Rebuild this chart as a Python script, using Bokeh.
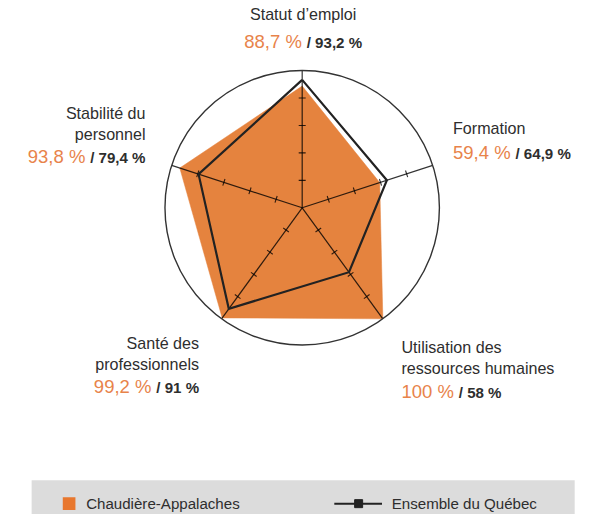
import numpy as np
from bokeh.plotting import figure
from bokeh.models import Range1d
from bokeh.core.properties import value
from bokeh.embed import file_html
from bokeh.resources import INLINE

# ---------------- data ----------------
categories = ["Statut d’emploi", "Formation", "Utilisation des ressources humaines",
              "Santé des professionnels", "Stabilité du personnel"]
category_lines = [["Statut d’emploi"], ["Formation"], ["Utilisation des", "ressources humaines"],
                  ["Santé des", "professionnels"], ["Stabilité du", "personnel"]]
region_values = [88.7, 59.4, 100.0, 99.2, 93.8]
quebec_values = [93.2, 64.9, 58.0, 91.0, 79.4]
region_labels = ["88,7 %", "59,4 %", "100 %", "99,2 %", "93,8 %"]
quebec_labels = ["/ 93,2 %", "/ 64,9 %", "/ 58 %", "/ 91 %", "/ 79,4 %"]
axis_ticks = [20, 40, 60, 80]
axis_max = 100
series_names = ["Chaudière-Appalaches", "Ensemble du Québec"]

# ---------------- style / layout ----------------
W, H = 581, 514
S = W / 597.0  # layout designed on a 597 x 530 canvas, scaled to fit


def sx(v):
    return v * S


CX, CY, R = sx(310), sx(213), sx(141)
FONT = value("Liberation Sans")
ORANGE_FILL = "#E5833E"
ORANGE_TEXT = "#E8834A"
DARK = "#2e2e2e"

p = figure(width=W, height=H, x_range=Range1d(0, W), y_range=Range1d(H, 0),
           output_backend="svg", toolbar_location=None, min_border=0,
           x_axis_location=None, y_axis_location=None)
p.grid.visible = False
p.outline_line_color = None
p.background_fill_color = "white"

n = len(categories)
angles = np.radians(90 - 72 * np.arange(n))


def polar(vals):
    v = np.asarray(vals, dtype=float) / axis_max * R
    return CX + v * np.cos(angles), CY - v * np.sin(angles)


# region polygon
rx, ry = polar(region_values)
p.patch(list(rx), list(ry), fill_color=ORANGE_FILL, line_color=ORANGE_FILL, line_width=0.5)

# axes with ticks
ex, ey = polar([axis_max] * n)
p.multi_line([[CX, x] for x in ex], [[CY, y] for y in ey], line_color="black", line_alpha=0.8, line_width=1.2)
tx, ty = [], []
half = 3.5
for i, a in enumerate(angles):
    nx, ny = -np.sin(a), -np.cos(a)
    for t in axis_ticks:
        px_ = CX + t / axis_max * R * np.cos(a)
        py_ = CY - t / axis_max * R * np.sin(a)
        tx.append([px_ - half * nx, px_ + half * nx])
        ty.append([py_ - half * ny, py_ + half * ny])
p.multi_line(tx, ty, line_color="black", line_alpha=0.8, line_width=1.1)

# Quebec line
qx, qy = polar(quebec_values)
p.line(list(qx) + [qx[0]], list(qy) + [qy[0]], line_color="#222222", line_width=2.2, line_join="miter")

# outer circle
p.circle(x=[CX], y=[CY], radius=R, fill_color=None, line_color="#333333", line_width=1.4)

# ---------------- labels ----------------
EM = {**{d: 0.556 for d in "0123456789"}, ",": 0.278, " ": 0.278, "%": 0.889, "/": 0.278}


def tw(s, size):
    return sum(EM.get(c, 0.556) for c in s) * size


OS, DS, LS = sx(19), sx(15.5), sx(16.5)
GAP = sx(5)
label_layout = [
    (311, "center", [14], 42),
    (465, "left", [131], 156),
    (412, "left", [356, 378], 402),
    (204, "right", [352, 373], 397),
    (149, "right", [116, 137], 160),
]
for i, (ax, align, ys, vy) in enumerate(label_layout):
    ax = sx(ax)
    ys = [sx(y) for y in ys]
    vy = sx(vy)
    p.text(x=[ax] * len(ys), y=ys, text=category_lines[i], text_font=FONT, text_font_size=f"{LS:.1f}px",
           text_color=DARK, text_align=align, text_baseline="middle")
    wo = tw(region_labels[i], OS)
    wd = tw(quebec_labels[i], DS)
    if align == "left":
        ox = ax
    elif align == "right":
        ox = ax - wd - GAP - wo
    else:
        ox = ax - (wo + GAP + wd) / 2
    dx = ox + wo + GAP
    p.text(x=[ox], y=[vy], text=[region_labels[i]], text_font=FONT, text_font_size=f"{OS:.1f}px",
           text_color=ORANGE_TEXT, text_align="left", text_baseline="middle")
    p.text(x=[dx], y=[vy + 1], text=[quebec_labels[i]], text_font=FONT, text_font_size=f"{DS:.1f}px",
           text_font_style="bold", text_color=DARK, text_align="left", text_baseline="middle")

# ---------------- legend ----------------
LY = sx(517)
LF = f"{sx(15.5):.1f}px"
p.quad(left=[sx(32)], right=[sx(590)], top=[sx(493)], bottom=[H], fill_color="#DCDCDC", line_color=None)
p.quad(left=[sx(64)], right=[sx(77)], top=[LY - sx(6.5)], bottom=[LY + sx(6.5)], fill_color="#E8772E", line_color=None)
p.text(x=[sx(88)], y=[LY], text=[series_names[0]], text_font=FONT, text_font_size=LF,
       text_color=DARK, text_align="left", text_baseline="middle")
p.line([sx(343), sx(392)], [LY, LY], line_color="#222222", line_width=2)
p.scatter([sx(368)], [LY], marker="square", size=8, fill_color="#222222", line_color="#222222")
p.text(x=[sx(402)], y=[LY], text=[series_names[1]], text_font=FONT, text_font_size=LF,
       text_color=DARK, text_align="left", text_baseline="middle")

open("out.html", "w").write(file_html(p, INLINE))
